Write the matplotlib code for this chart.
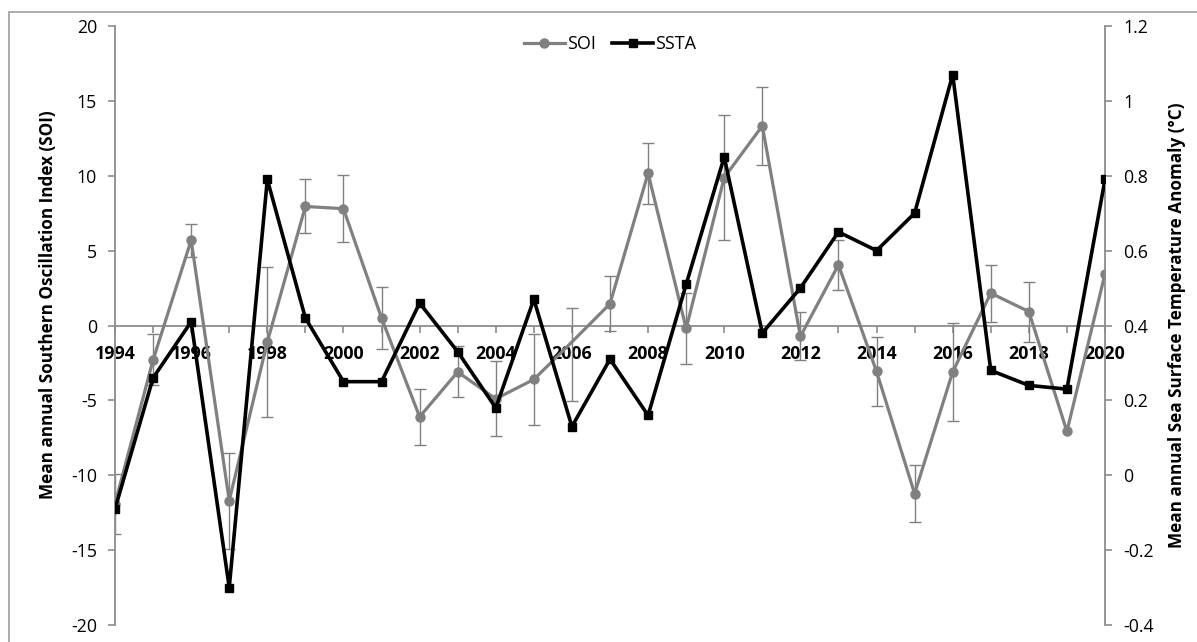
import numpy as np
import matplotlib
matplotlib.use("Agg")
import matplotlib.pyplot as plt
from matplotlib.ticker import FuncFormatter, MultipleLocator
from matplotlib.patches import Rectangle
from matplotlib.lines import Line2D

plt.rcParams['font.family'] = ['Open Sans', 'DejaVu Sans']
plt.rcParams['axes.unicode_minus'] = False

years = list(range(1994, 2021))

soi = [-11.9, -2.3, 5.7, -11.7, -1.1, 7.95, 7.8, 0.5, -6.1, -3.1, -4.9, -3.6, -1.1,
       1.45, 10.17, -0.2, 9.88, 13.33, -0.73, 4.05, -3.07, -11.23, -3.1, 2.16, 0.93,
       -7.07, 3.45]
soi_err_low = [2.0, 1.7, 1.1, 3.2, 5.0, 1.8, 2.25, 2.1, 1.85, 1.7, 2.5, 3.05, 3.95,
               1.85, 2.05, 2.4, 4.2, 2.6, 1.6, 1.65, 2.3, 1.9, 3.3, 1.9, 2.0, 0.0, 0.0]
soi_err_high = [2.0, 1.7, 1.1, 3.2, 5.0, 1.8, 2.25, 2.1, 1.85, 1.7, 2.5, 3.05, 2.26,
                1.85, 2.05, 2.4, 4.2, 2.6, 1.6, 1.65, 2.3, 1.9, 3.3, 1.9, 2.0, 0.0, 0.0]

ssta = [-0.09, 0.26, 0.41, -0.30, 0.79, 0.42, 0.25, 0.25, 0.46, 0.33, 0.18, 0.47, 0.13,
        0.31, 0.16, 0.51, 0.85, 0.38, 0.50, 0.65, 0.60, 0.70, 1.07, 0.28, 0.24, 0.23,
        0.79]

year_labels = [str(y) for y in range(1994, 2021, 2)]

GRAY = '#808080'
AXIS_GRAY = '#8c8c8c'
TICK_FS = 12.8

W, H = 1197, 642
fig = plt.figure(figsize=(W / 100, H / 100), dpi=100)
fig.patch.set_facecolor('white')

# chart border
fig.patches.append(Rectangle((9 / W, -0.05), 1.2, 1 - 12 / H + 0.05,
                             transform=fig.transFigure, fill=False,
                             edgecolor='#a6a6a6', linewidth=1.3, zorder=0))

left, right, top, bottom = 115 / W, 1105 / W, 1 - 26 / H, 1 - 625 / H
ax = fig.add_axes([left, bottom, right - left, top - bottom])
ax2 = ax.twinx()

# horizontal axis line through zero (set before tick labels, it resets ticks)
ax.spines['bottom'].set_position(('data', 0))
ax.spines['bottom'].set_color(AXIS_GRAY)
ax.spines['bottom'].set_linewidth(1.3)

x = np.array(years)
y_soi = np.array(soi)
lo = np.array(soi_err_low)
hi = np.array(soi_err_high)
has_err = (lo > 0) | (hi > 0)

ax.errorbar(x[has_err], y_soi[has_err], yerr=[lo[has_err], hi[has_err]], fmt='none',
            ecolor=GRAY, elinewidth=1.0, capsize=4, capthick=1.0, zorder=2)
marker_idx = [i for i, y in enumerate(years) if y != 2006]
ax.plot(x, y_soi, color=GRAY, linewidth=2.3, marker='o', markersize=6.5,
        markevery=marker_idx, zorder=3)

ax2.plot(x, ssta, color='black', linewidth=2.6, marker='s', markersize=6, zorder=3)

ax.set_xlim(1994, 2020)
ax.set_ylim(-20, 20)
ax2.set_ylim(-0.4, 1.2)

ax.yaxis.set_major_locator(MultipleLocator(5))
ax2.yaxis.set_major_locator(MultipleLocator(0.2))
ax2.yaxis.set_major_formatter(FuncFormatter(lambda v, p: f"{round(v, 1):g}"))

ax.set_xticks(list(range(1994, 2021, 2)))
ax.set_xticks(years, minor=True)
ax.set_xticklabels(year_labels, fontweight='bold', fontsize=TICK_FS)

for a in (ax, ax2):
    a.spines['top'].set_visible(False)
    a.spines['left'].set_visible(a is ax)
    a.spines['right'].set_visible(a is ax2)
    a.set_facecolor('none')
ax2.spines['bottom'].set_visible(False)

ax.spines['left'].set_color(AXIS_GRAY)
ax2.spines['right'].set_color(AXIS_GRAY)
ax.spines['left'].set_linewidth(1.3)
ax2.spines['right'].set_linewidth(1.3)

ax.tick_params(axis='x', which='both', direction='out', length=5, width=1.2,
               color=AXIS_GRAY, pad=9)
ax.tick_params(axis='y', direction='out', length=5, width=1.2, color=AXIS_GRAY,
               labelsize=TICK_FS, pad=8)
ax2.tick_params(axis='y', direction='out', length=5, width=1.2, color=AXIS_GRAY,
                labelsize=TICK_FS, pad=8)

LABEL_FS = 11.5
ylab_l = ax.set_ylabel('Mean annual Southern Oscillation Index (SOI)',
                       fontsize=LABEL_FS, fontweight='bold')
ylab_r = ax2.set_ylabel('Mean annual Sea Surface Temperature Anomaly (°C)',
                        fontsize=LABEL_FS, fontweight='bold')

# size the axis titles so the right one runs about 446 px long
renderer = fig.canvas.get_renderer()
span = ylab_r.get_window_extent(renderer).height
fs = LABEL_FS * 446.0 / span
for lab in (ylab_l, ylab_r):
    lab.set_fontsize(fs)
    lab.set_verticalalignment('center')
ax.yaxis.set_label_coords(-0.0677, 0.535)
ax2.yaxis.set_label_coords(1.0727, 0.5)

handles = [Line2D([], [], color=GRAY, linewidth=2.3, marker='o', markersize=6.5),
           Line2D([], [], color='black', linewidth=2.6, marker='s', markersize=6)]
ax2.legend(handles, ['SOI', 'SSTA'], loc='upper center', bbox_to_anchor=(0.5, 1.0),
           ncol=2, frameon=False, fontsize=13, handlelength=2.27, handletextpad=0.12,
           columnspacing=0.9, borderaxespad=0.1)

fig.savefig('out.png', dpi=100, facecolor='white')
